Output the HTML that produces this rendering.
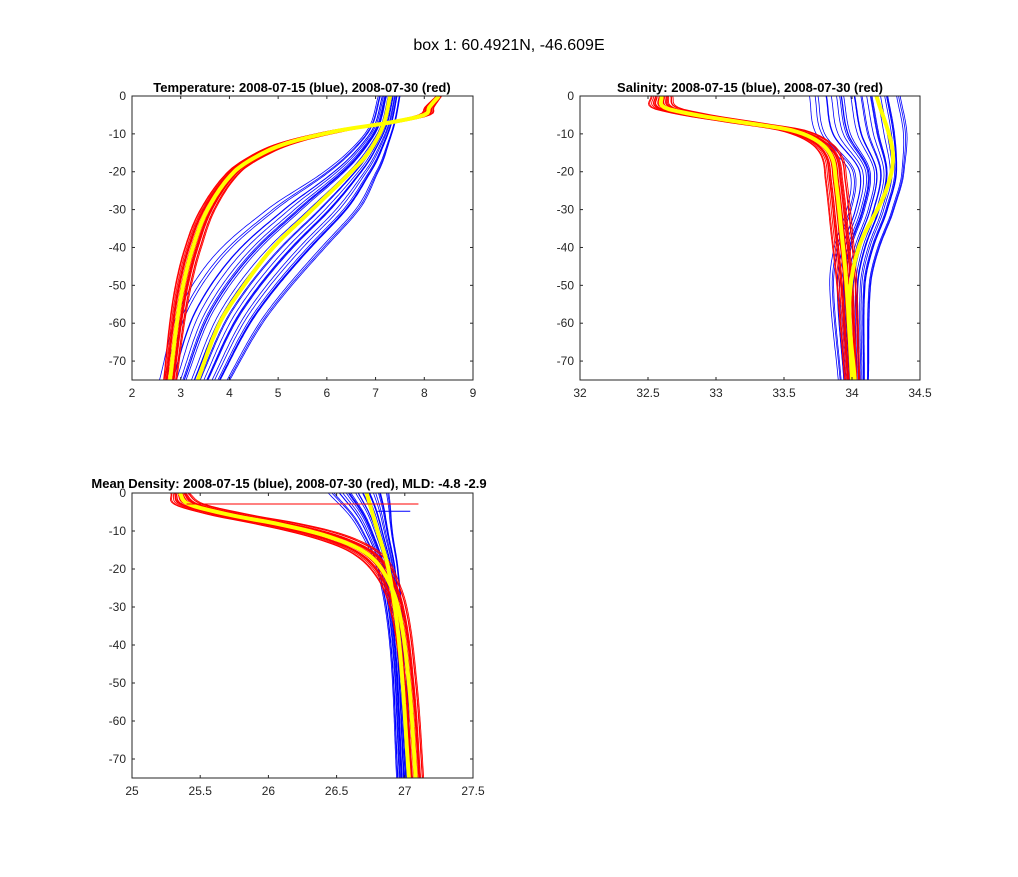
<!DOCTYPE html>
<html><head><meta charset="utf-8"><style>
body{margin:0;background:#fff;width:1018px;height:872px;overflow:hidden}
svg{font-family:"Liberation Sans",sans-serif}
</style></head><body>
<svg id="s" width="1018" height="872" xmlns="http://www.w3.org/2000/svg">
<rect width="1018" height="872" fill="#fff"/>
<text x="509" y="50" font-size="16" text-anchor="middle" fill="#000">box 1: 60.4921N, -46.609E</text>
<text x="302" y="92" font-size="13" font-weight="bold" text-anchor="middle">Temperature: 2008-07-15 (blue), 2008-07-30 (red)</text>
<text x="750" y="92" font-size="13" font-weight="bold" text-anchor="middle">Salinity: 2008-07-15 (blue), 2008-07-30 (red)</text>
<text x="289" y="488" font-size="13" font-weight="bold" text-anchor="middle">Mean Density: 2008-07-15 (blue), 2008-07-30 (red), MLD: -4.8 -2.9</text>
<g id="g"></g>
</svg>
<script>
const NS="http://www.w3.org/2000/svg",G=document.getElementById('g');
function el(t,a,txt){const e=document.createElementNS(NS,t);for(const k in a)e.setAttribute(k,a[k]);if(txt!=null)e.textContent=txt;G.appendChild(e);return e;}
function interp(p,d){const n=p.length;if(n==1)return p[0][1];
 for(let i=0;i<n-1;i++){if(d<=p[i+1][0]||i==n-2){
  const x0=p[i][0],x1=p[i+1][0],y0=p[i][1],y1=p[i+1][1],h=x1-x0,t=Math.min(1,Math.max(0,(d-x0)/h));
  const m0=i>0?(y1-p[i-1][1])/(x1-p[i-1][0]):(y1-y0)/h;
  const m1=i<n-2?(p[i+2][1]-y0)/(p[i+2][0]-x0):(y1-y0)/h;
  const t2=t*t,t3=t2*t;
  return (2*t3-3*t2+1)*y0+(t3-2*t2+t)*h*m0+(-2*t3+3*t2)*y1+(t3-t2)*h*m1;}}
 return p[n-1][1];}
function plot(ax){
 const{L,R,T,B,x0,x1,ticks}=ax;
 const X=v=>L+(v-x0)/(x1-x0)*(R-L),Y=d=>T+d/75*(B-T);
 const cid='c'+L+T;
 const cp=el('clipPath',{id:cid});const rr=document.createElementNS(NS,'rect');rr.setAttribute('x',L);rr.setAttribute('y',T);rr.setAttribute('width',R-L);rr.setAttribute('height',B-T);cp.appendChild(rr);
 function bundle(mean,spread,n,col,w,seed){
  for(let i=0;i<n;i++){const u=n==1?0:(-1+2*i/(n-1));const u2=Math.sin(i*seed*1.7)*0.3;
   let p=[];for(let d=0;d<=75;d+=0.5){p.push(X(interp(mean,d)+(u+u2)*interp(spread,d)).toFixed(1)+','+Y(d).toFixed(1));}
   el('polyline',{points:p.join(' '),fill:'none',stroke:col,'stroke-width':w,'clip-path':`url(#${cid})`});}
 }
 ax.draw(bundle,X,Y,cid);
 el('rect',{x:L,y:T,width:R-L,height:B-T,fill:'none',stroke:'#262626','stroke-width':1});
 for(const t of ticks){const x=X(t);el('line',{x1:x,x2:x,y1:B,y2:B-3,stroke:'#262626'});el('line',{x1:x,x2:x,y1:T,y2:T+3,stroke:'#262626'});el('text',{x:x,y:B+17,'font-size':12,'text-anchor':'middle',fill:'#262626'},t.toString());}
 for(let d=0;d<=70;d+=10){const y=Y(d);el('line',{x1:L,x2:L+3,y1:y,y2:y,stroke:'#262626'});el('line',{x1:R,x2:R-3,y1:y,y2:y,stroke:'#262626'});el('text',{x:L-6,y:y+4,'font-size':12,'text-anchor':'end',fill:'#262626'},d==0?'0':'-'+d);}
}
plot({L:132,R:473,T:96,B:380,x0:2,x1:9,ticks:[2,3,4,5,6,7,8,9],draw:(b)=>{
 const bm=[[0,7.3],[8,7.15],[15,6.85],[20,6.55],[30,5.8],[40,5.0],[50,4.35],[60,3.85],[75,3.35]];
 const bs=[[0,0.2],[10,0.25],[20,0.5],[30,0.85],[45,0.95],[75,0.65]];
 b(bm,bs,30,'#0000ff',0.8,3);
 const rm=[[0,8.3],[3,8.1],[5,8.0],[7,7.3],[9,6.3],[12,5.3],[15,4.7],[20,4.1],[30,3.55],[40,3.25],[50,3.05],[60,2.92],[75,2.78]];
 const rs=[[0,0.05],[10,0.15],[20,0.12],[40,0.15],[75,0.12]];
 b(rm,rs,22,'#ff0000',0.9,5);
 b([[0,7.3],[8,7.15],[15,6.85],[20,6.5],[30,5.7],[40,4.9],[50,4.3],[60,3.8],[75,3.35]],[[0,0]],1,'#ffff00',4,1);b(rm,[[0,0]],1,'#ffff00',4,1);
}});
plot({L:580,R:920,T:96,B:380,x0:32,x1:34.5,ticks:[32,32.5,33,33.5,34,34.5],draw:(b)=>{
 const bm=[[0,34.05],[10,34.1],[20,34.2],[30,34.15],[40,34.05],[50,34.0],[75,34.02]];
 const bs=[[0,0.3],[10,0.3],[20,0.18],[40,0.15],[75,0.1]];
 b(bm,bs,30,'#0000ff',0.8,3);
 const rm=[[0,32.6],[3,32.62],[5,32.85],[7,33.2],[9,33.55],[12,33.75],[16,33.85],[22,33.88],[35,33.92],[50,33.96],[75,34.0]];
 const rs=[[0,0.07],[6,0.1],[12,0.07],[20,0.07],[40,0.07],[75,0.05]];
 b(rm,rs,22,'#ff0000',0.9,5);
 b([[0,34.18],[15,34.3],[25,34.25],[40,34.05],[55,33.98],[75,34.02]],[[0,0]],1,'#ffff00',4,1);b(rm,[[0,0]],1,'#ffff00',4,1);
}});
plot({L:132,R:473,T:493,B:778,x0:25,x1:27.5,ticks:[25,25.5,26,26.5,27,27.5],draw:(b,X,Y,cid)=>{
 const bm=[[0,26.68],[5,26.75],[10,26.8],[20,26.88],[40,26.95],[75,27.0]];
 const bs=[[0,0.2],[8,0.12],[20,0.07],[40,0.05],[75,0.05]];
 b(bm,bs,30,'#0000ff',0.8,3);
 const rm=[[0,25.35],[3,25.42],[6,25.75],[8,26.05],[11,26.4],[15,26.68],[20,26.83],[30,26.95],[50,27.03],[75,27.08]];
 const rs=[[0,0.06],[8,0.15],[15,0.1],[25,0.06],[75,0.05]];
 b(rm,rs,22,'#ff0000',0.9,5);
 b([[0,26.72],[10,26.8],[20,26.88],[40,26.96],[75,27.03]],[[0,0]],1,'#ffff00',4,1);b(rm,[[0,0]],1,'#ffff00',4,1);
 el('line',{x1:X(25.4),x2:X(27.1),y1:Y(2.9),y2:Y(2.9),stroke:'#ff0000','stroke-width':1});
 el('line',{x1:X(26.8),x2:X(27.04),y1:Y(4.8),y2:Y(4.8),stroke:'#0000ff','stroke-width':1});
}});
</script>
</body></html>
